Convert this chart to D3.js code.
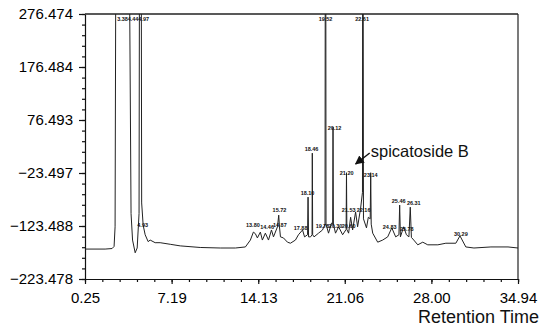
<!DOCTYPE html>
<html>
<head>
<meta charset="utf-8">
<script src="https://cdn.jsdelivr.net/npm/d3@7"></script>
<style>
  body { margin: 0; background: #fff; }
  svg { display: block; font-family: Arial, "Liberation Sans", sans-serif; }
</style>
</head>
<body>
<svg id="chart" width="547" height="332"></svg>
<script>
// Axis ranges and tick labels
const xTicks = [0.25, 7.19, 14.13, 21.06, 28.00, 34.94];
const yTicks = [-223.478, -123.488, -23.497, 76.493, 176.484, 276.474];

// Chromatogram trace: [retention time, signal]
const trace = [
  [0.25, -167], [1.86, -167], [2.42, -166], [2.58, -162], [2.66, -125], [2.72, 400],
  [3.38, 900], [3.80, 400], [3.94, -100], [4.06, -150], [4.27, -174], [4.43, -165],
  [4.58, -100], [4.65, 900], [4.72, 900], [4.79, -80], [4.91, -122], [5.07, -140], [5.31, -153],
  [5.47, -150], [5.87, -155], [6.27, -155], [7.08, -158], [7.88, -161], [9.48, -164],
  [11.09, -165], [12.30, -165], [13.10, -163], [13.50, -150], [13.74, -135], [13.90, -138],
  [14.06, -146], [14.30, -135], [14.46, -150], [14.70, -137], [14.95, -150], [15.19, -131],
  [15.35, -144], [15.67, -125], [15.77, -103], [15.83, -125], [15.91, -144], [16.15, -146],
  [16.47, -154], [16.71, -156], [17.11, -150], [17.35, -140], [17.68, -131], [17.84, -144],
  [18.08, -140], [18.12, -69], [18.16, -144], [18.32, -144], [18.44, -140], [18.46, 14], [18.49, -140],
  [18.60, -144], [18.96, -137], [19.28, -131], [19.48, -120], [19.51, 700], [19.53, 700], [19.56, -120],
  [19.76, -137], [20.00, -118], [20.09, -120], [20.12, 63], [20.15, -120], [20.32, -137], [20.57, -125],
  [20.89, -140], [21.17, -130], [21.20, -23], [21.23, -130], [21.37, -137], [21.53, -107],
  [21.69, -131], [21.93, -97], [22.09, -125], [22.33, -90], [22.48, -60], [22.50, 700],
  [22.52, 700], [22.56, -110], [22.80, -127], [22.95, -107], [23.10, -110], [23.14, -23], [23.18, -120],
  [23.30, -137], [23.70, -154], [24.10, -150], [24.50, -144], [24.83, -127], [25.14, -144],
  [25.40, -140], [25.46, -84], [25.52, -144], [25.78, -125], [26.00, -140], [26.20, -144],
  [26.31, -88], [26.40, -145], [26.59, -150], [26.91, -159], [27.31, -154], [27.71, -159],
  [28.52, -159], [29.16, -156], [29.96, -156], [30.29, -142], [30.76, -163], [31.41, -165],
  [32.77, -163], [34.14, -163], [34.94, -165]
];

// Peak labels: [text, time, signal at label baseline]
const peakLabels = [
  ["3.38", 3.26, 263], ["4.44", 4.10, 263], ["4.97", 4.95, 263],
  ["19.52", 19.52, 263], ["22.61", 22.45, 263],
  ["4.93", 4.87, -125], ["13.80", 13.70, -125], ["14.46", 14.84, -129], ["14.87", 15.86, -125],
  ["15.72", 15.83, -97], ["17.88", 17.52, -131], ["18.10", 18.08, -65], ["18.46", 18.40, 18],
  ["20.12", 20.24, 57], ["19.78", 19.28, -127], ["20.30", 20.32, -127], ["20.60", 21.37, -127],
  ["21.20", 21.21, -27], ["21.53", 21.37, -97], ["22.16", 22.57, -97], ["23.14", 23.14, -31],
  ["24.83", 24.66, -129], ["25.46", 25.38, -80], ["25.78", 26.03, -133], ["26.31", 26.59, -84],
  ["30.29", 30.36, -142]
];

// Compound annotation
const annotText = "spicatoside B";
const annotArrow = { from: [23.06, 14.2], to: [21.93, -6.5] };
const annotPos = [23.14, 6.6];

const svg = d3.select("#chart");
const margin = { left: 85, right: 29, top: 14, bottom: 53 };
const width = 547 - margin.left - margin.right;
const height = 332 - margin.top - margin.bottom;

const x = d3.scaleLinear().domain([xTicks[0], xTicks[xTicks.length - 1]]).range([0, width]);
const y = d3.scaleLinear().domain([yTicks[0], yTicks[yTicks.length - 1]]).range([height, 0]);

const g = svg.append("g").attr("transform", `translate(${margin.left},${margin.top})`);

svg.append("defs").append("clipPath").attr("id", "plotClip")
  .append("rect").attr("x", 0).attr("y", 0).attr("width", width).attr("height", height);

// minor ticks, 5 divisions between labels
const xStep = (xTicks[1] - xTicks[0]) / 5;
const xMinor = d3.range(0, 26).map(i => xTicks[0] + i * xStep);
const yStep = (yTicks[1] - yTicks[0]) / 5;
const yMinor = d3.range(0, 26).map(i => yTicks[0] + i * yStep);

// Bottom axis
g.append("g")
  .attr("transform", `translate(0,${height})`)
  .call(d3.axisBottom(x).tickValues(xMinor).tickSize(3).tickFormat(""))
  .call(a => a.select(".domain").remove());
const xAxis = g.append("g")
  .attr("transform", `translate(0,${height})`)
  .call(d3.axisBottom(x).tickValues(xTicks).tickSize(5).tickSizeOuter(0).tickPadding(8)
    .tickFormat(d3.format(".2f")));
xAxis.selectAll("text").attr("font-size", 15).attr("font-family", "Arial, 'Liberation Sans', sans-serif");

// Left axis
g.append("g")
  .call(d3.axisLeft(y).tickValues(yMinor).tickSize(3).tickFormat(""))
  .call(a => a.select(".domain").remove());
const yAxis = g.append("g")
  .call(d3.axisLeft(y).tickValues(yTicks).tickSize(6).tickSizeOuter(0).tickPadding(6)
    .tickFormat(d3.format(".3f")));
yAxis.selectAll("text").attr("font-size", 15).attr("font-family", "Arial, 'Liberation Sans', sans-serif");

g.selectAll(".domain, .tick line").attr("stroke", "#111").attr("stroke-width", 1.2);

// Frame top and right
g.append("line").attr("x1", 0).attr("x2", width).attr("y1", 0).attr("y2", 0)
  .attr("stroke", "#222").attr("stroke-width", 1.5);
g.append("line").attr("x1", width).attr("x2", width).attr("y1", 0).attr("y2", height)
  .attr("stroke", "#222").attr("stroke-width", 1.2);

// Trace
const line = d3.line().x(d => x(d[0])).y(d => y(d[1]));
g.append("path")
  .datum(trace)
  .attr("clip-path", "url(#plotClip)")
  .attr("d", line)
  .attr("fill", "none")
  .attr("stroke", "#222")
  .attr("stroke-width", 1);

// Peak labels
g.append("g").selectAll("text")
  .data(peakLabels)
  .enter()
  .append("text")
  .attr("x", d => x(d[1]))
  .attr("y", d => y(d[2]))
  .attr("text-anchor", "middle")
  .attr("font-size", 5.5)
  .attr("font-weight", "bold")
  .attr("fill", "#111")
  .text(d => d[0]);

// Annotation
svg.append("defs").append("marker")
  .attr("id", "arrowHead")
  .attr("viewBox", "0 0 10 10")
  .attr("refX", 9).attr("refY", 5)
  .attr("markerWidth", 6).attr("markerHeight", 6)
  .attr("orient", "auto")
  .append("path").attr("d", "M0,0 L10,5 L0,10 Z").attr("fill", "#111");

g.append("line")
  .attr("x1", x(annotArrow.from[0])).attr("y1", y(annotArrow.from[1]))
  .attr("x2", x(annotArrow.to[0])).attr("y2", y(annotArrow.to[1]))
  .attr("stroke", "#111").attr("stroke-width", 1.5)
  .attr("marker-end", "url(#arrowHead)");

g.append("text")
  .attr("x", x(annotPos[0])).attr("y", y(annotPos[1]))
  .attr("font-size", 16.5)
  .attr("fill", "#111")
  .text(annotText);

// Axis title
svg.append("text")
  .attr("x", 539).attr("y", 323)
  .attr("text-anchor", "end")
  .attr("font-size", 18)
  .attr("fill", "#111")
  .text("Retention Time");
</script>
</body>
</html>
